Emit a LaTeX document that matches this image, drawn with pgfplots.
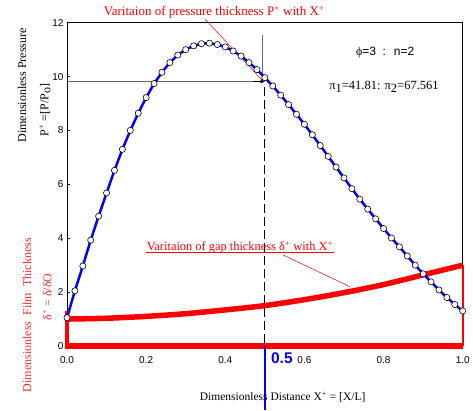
\documentclass[border=0pt]{standalone}
\usepackage{pgfplots}
\pgfplotsset{compat=1.18}
\usepackage{pgfplotstable}
\usepackage{fontspec}
\setmainfont{Liberation Serif}
\setsansfont{Liberation Sans}
\usetikzlibrary{arrows.meta}

% pressure P+ read off the markers
\pgfplotstableread{
x p
0.00 1.05
0.02 2.05
0.04 2.97
0.06 3.93
0.08 4.82
0.10 5.68
0.12 6.52
0.14 7.30
0.16 8.00
0.18 8.64
0.20 9.22
0.22 9.74
0.24 10.16
0.26 10.52
0.28 10.80
0.30 11.00
0.32 11.14
0.34 11.22
0.36 11.24
0.38 11.19
0.40 11.10
0.42 10.95
0.44 10.76
0.46 10.52
0.48 10.26
0.50 9.96
0.52 9.65
0.54 9.31
0.56 8.96
0.58 8.60
0.60 8.23
0.62 7.84
0.64 7.44
0.66 7.04
0.68 6.64
0.70 6.24
0.72 5.84
0.74 5.45
0.76 5.08
0.78 4.72
0.80 4.36
0.82 4.01
0.84 3.68
0.86 3.34
0.88 3.00
0.90 2.68
0.92 2.38
0.94 2.08
0.96 1.80
0.98 1.54
1.00 1.30
}\pressure

% gap thickness delta+
\pgfplotstableread{
x d
0.0 1.00
0.1 1.03
0.2 1.10
0.3 1.20
0.4 1.34
0.5 1.50
0.6 1.72
0.7 1.98
0.8 2.28
0.9 2.64
1.0 3.00
}\gap

\begin{document}
\begin{tikzpicture}
\begin{axis}[
  at={(67pt,64pt)}, anchor=south west,
  width=395.7pt, height=323.3pt, scale only axis,
  xmin=0, xmax=1, ymin=0, ymax=12,
  xtick={0,0.2,0.4,0.6,0.8,1.0}, ytick={0,2,4,6,8,10,12},
  xtick pos=bottom, ytick pos=left,
  tick align=inside, major tick length=3pt,
  tick style={black, thin},
  axis line style={black, line width=0.6pt},
  x tick label style={/pgf/number format/.cd, fixed, fixed zerofill, precision=1, /tikz/.cd, yshift=-7pt},
  ticklabel style={font=\sffamily\fontsize{10}{12}\selectfont, /pgf/number format/assume math mode=true},
  clip=false,
]
% gap outline
\addplot[red, line width=5.5pt] coordinates {(0,0) (1.0,0)};
\addplot[red, line width=4.5pt] coordinates {(0,-0.1) (0,1.3)};
\addplot[red, line width=2pt] coordinates {(1,0) (1,3)};
\addplot[red, line width=5.5pt, smooth] table[x=x, y=d] {\gap};

% reading lines at X+ = 0.5
\draw[gray!80!black, line width=0.8pt] (axis cs:0,9.82) -- (axis cs:0.49,9.82);
\draw[gray!80!black, line width=0.8pt] (axis cs:0.495,11.55) -- (axis cs:0.495,9.75);
\draw[black, line width=1.2pt, dash pattern=on 9pt off 4pt] (axis cs:0.5,9.6) -- (axis cs:0.5,0);
\draw[black, line width=1.2pt, -{Stealth[length=5pt]}] (axis cs:0.47,9.82) -- (axis cs:0.5,9.82);
\draw[blue, line width=2pt] (axis cs:0.5,0) -- (axis cs:0.5,-2.37);
\node[blue, font=\sffamily\bfseries\fontsize{15.5}{18}\selectfont] at (axis cs:0.543,-0.45) {0.5};

% pressure
\addplot[blue, line width=2.5pt, mark=*, mark size=3.1pt,
  mark options={fill=white, draw=black, line width=0.6pt}] table[x=x, y=p] {\pressure};

% annotations
\node[red, font=\fontsize{13}{15}\selectfont] at (axis cs:0.372,12.39)
  {Varitaion of pressure thickness P\textsuperscript{+} with X\textsuperscript{+}};
\draw[red, line width=0.5pt] (axis cs:0.349,12.13) -- (axis cs:0.493,9.87);
\node[red, font=\fontsize{12.4}{14}\selectfont, inner sep=1pt] (gapl) at (axis cs:0.437,3.67)
  {Varitaion of gap thickness δ\textsuperscript{+} with X\textsuperscript{+}};
\draw[red, line width=0.6pt] ([yshift=1.5pt]gapl.south west) -- ([yshift=1.5pt]gapl.south east);
\draw[red, line width=0.5pt] (axis cs:0.546,3.38) -- (axis cs:0.715,2.2);
\node[font=\sffamily\fontsize{12}{14}\selectfont] at (axis cs:0.804,10.89)
  {{\rmfamily ϕ}=3\; :\; n=2};
\node[font=\fontsize{12.5}{14}\selectfont] at (axis cs:0.801,9.62)
  {π\raisebox{-0.45ex}{1}=41.81: π\raisebox{-0.45ex}{2}=67.561};

% axis titles
\node[rotate=90, font=\fontsize{12}{14}\selectfont] at (axis cs:-0.1137,9.68) {Dimensionless Pressure};
\node[rotate=90, font=\fontsize{12}{14}\selectfont] at (axis cs:-0.0556,8.76)
  {P\textsuperscript{+} =[P/P\raisebox{-0.4ex}{o}]};
\node[rotate=90, red!85!white, font=\fontsize{12}{14}\selectfont] at (axis cs:-0.101,1.15)
  {Dimensionless\ \ Film\ \ Thickness};
\node[rotate=90, red!85!white, font=\fontsize{12}{14}\selectfont] at (axis cs:-0.0505,1.82)
  {δ\textsuperscript{+} = δ/δO};
\node[font=\fontsize{11.5}{13}\selectfont] at (axis cs:0.545,-1.89)
  {Dimensionless Distance X\textsuperscript{+} = [X/L]};
\end{axis}
\pgfresetboundingbox
\path[use as bounding box] (0,0) rectangle (473pt,410pt);
\end{tikzpicture}
\end{document}
